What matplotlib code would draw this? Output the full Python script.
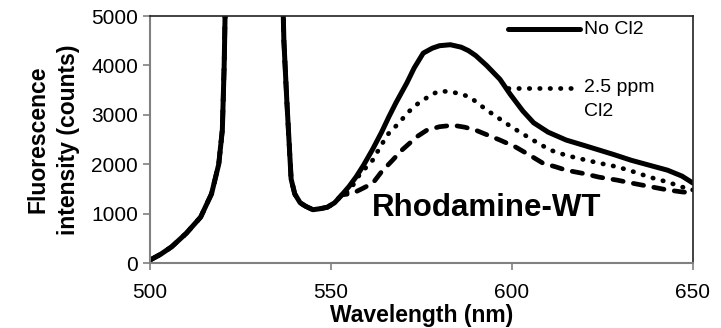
import numpy as np
import matplotlib.pyplot as plt

plt.rcParams['font.family'] = ['Liberation Sans', 'DejaVu Sans']

# shared part of the spectra (excitation peak + dip), same for all samples
wl_shared = [500, 503, 506, 510, 514, 517, 519, 520, 520.5, 521, 529, 536.5, 537, 537.8,
             539, 540, 541.5, 543, 545, 547, 549, 551, 553]
int_shared = [60, 180, 330, 600, 930, 1400, 2000, 2700, 4000, 6000, 9000, 6000, 4500, 3300,
              1700, 1400, 1220, 1150, 1080, 1100, 1130, 1220, 1380]

# No Cl2
wl_nocl = [555, 557, 559, 561.5, 564, 566, 568, 571, 573, 575.5, 578, 580, 583, 586, 588,
           590, 593, 596.7, 599.5, 603, 606, 610, 615, 620, 624, 628, 633, 638, 643, 647, 650]
int_nocl = [1550, 1750, 1980, 2300, 2650, 2960, 3250, 3650, 3950, 4250, 4350, 4400, 4420, 4370,
            4300, 4200, 4000, 3720, 3420, 3080, 2840, 2650, 2490, 2380, 2290, 2200, 2080, 1980,
            1880, 1760, 1620]

# 2.5 ppm Cl2
wl_25 = [555, 558, 561.5, 564, 566, 569, 571, 573.5, 575.5, 578, 580, 583, 586, 588.4, 593,
         596, 600, 605.8, 610.5, 615, 620.7, 625, 629, 634, 638, 643, 647, 650]
int_25 = [1450, 1800, 2080, 2400, 2630, 2850, 3030, 3200, 3300, 3420, 3480, 3470, 3420, 3360,
          3100, 2950, 2750, 2490, 2290, 2180, 2080, 2010, 1950, 1840, 1740, 1640, 1540, 1480]

# third sample (dashed)
wl_c = [556, 559, 561.6, 564, 567, 569.5, 571.8, 574, 576.5, 580, 583.7, 587, 590, 593,
        596.7, 601, 605, 608.6, 612, 615, 620, 624, 629, 633, 638, 643, 647, 650]
int_c = [1410, 1520, 1620, 1850, 2080, 2280, 2430, 2570, 2690, 2760, 2790, 2750, 2690, 2600,
         2490, 2350, 2180, 2020, 1950, 1880, 1810, 1740, 1680, 1620, 1550, 1480, 1440, 1420]

fig = plt.figure(figsize=(7.21, 3.28), dpi=100)
ax = fig.add_axes([0.208, 0.198, 0.753, 0.753])

ax.plot(wl_shared + wl_c, int_shared + int_c, color='black', lw=3.4,
        linestyle=(0, (2.2, 2.2)), dash_capstyle='round', solid_joinstyle='round')
ax.plot(wl_shared + wl_25, int_shared + int_25, color='black', lw=3.4,
        linestyle=(0, (0.1, 2.1)), dash_capstyle='round')
ax.plot(wl_shared + wl_nocl, int_shared + int_nocl, color='black', lw=3.6,
        solid_joinstyle='round', solid_capstyle='round')

ax.set_xlim(500, 650)
ax.set_ylim(0, 5000)
ax.set_xticks([500, 550, 600, 650])
ax.set_yticks([0, 1000, 2000, 3000, 4000, 5000])
ax.tick_params(labelsize=15, length=5, width=1.2, color='#808080', direction='out')
ax.tick_params(axis='x', pad=9)
for s in ['left', 'bottom']:
    ax.spines[s].set_color('#808080')
    ax.spines[s].set_linewidth(1.5)
for s in ['top', 'right']:
    ax.spines[s].set_color('#222222')
    ax.spines[s].set_linewidth(1.2)

ax.set_xlabel('Wavelength (nm)', fontsize=16.5, fontweight='bold', labelpad=2)
ax.set_ylabel('Fluorescence\nintensity (counts)', fontsize=16.5, fontweight='bold',
              labelpad=8, linespacing=1.45)

# legend drawn by hand (handle beside the first line of each label)
ax.plot([0.659, 0.792], [0.947, 0.947], transform=ax.transAxes, color='black', lw=3.6,
        solid_capstyle='round', clip_on=False)
ax.text(0.80, 0.947, 'No Cl2', transform=ax.transAxes, fontsize=14, va='center')
ax.plot([0.659, 0.777], [0.709, 0.709], transform=ax.transAxes, color='black', lw=3.4,
        linestyle=(0, (0.1, 2.1)), dash_capstyle='round')
ax.text(0.80, 0.709, '2.5 ppm', transform=ax.transAxes, fontsize=14, va='center')
ax.text(0.80, 0.612, 'Cl2', transform=ax.transAxes, fontsize=14, va='center')

ax.text(593, 950, 'Rhodamine-WT', fontsize=22.5, fontweight='bold', ha='center',
        va='baseline')

fig.savefig('out.png', dpi=100)
